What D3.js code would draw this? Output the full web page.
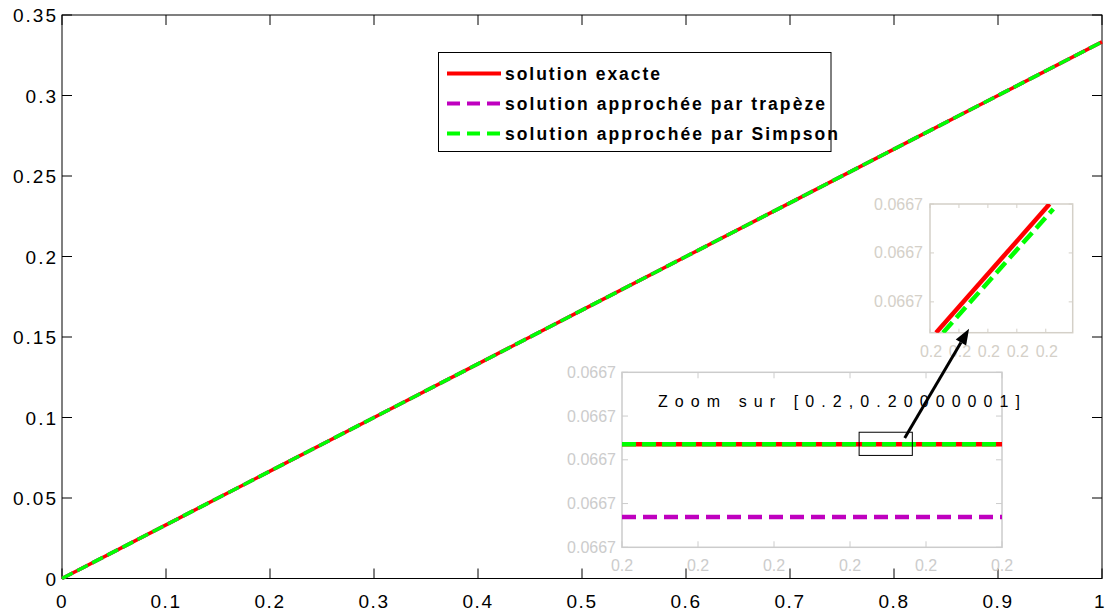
<!DOCTYPE html>
<html>
<head>
<meta charset="utf-8">
<script src="https://cdn.jsdelivr.net/npm/d3@7"></script>
<style>
  body { margin: 0; background: #fff; }
  svg { display: block; }
  text { font-family: Arial, "Liberation Sans", Helvetica, sans-serif; }
</style>
</head>
<body>
<div id="chart"></div>
<script>
"use strict"

// main data : x in [0,1]
var xs = [0, 0.1, 0.2, 0.3, 0.4, 0.5, 0.6, 0.7, 0.8, 0.9, 1];
var exacte = [0, 0.0333, 0.0667, 0.1, 0.1333, 0.1667, 0.2, 0.2333, 0.2667, 0.3, 0.3333];
var trapeze = [0, 0.0333, 0.0667, 0.1, 0.1333, 0.1667, 0.2, 0.2333, 0.2667, 0.3, 0.3333];
var simpson = [0, 0.0333, 0.0667, 0.1, 0.1333, 0.1667, 0.2, 0.2333, 0.2667, 0.3, 0.3333];
var xTicks = [0, 0.1, 0.2, 0.3, 0.4, 0.5, 0.6, 0.7, 0.8, 0.9, 1];
var xTickLabels = ["0", "0.1", "0.2", "0.3", "0.4", "0.5", "0.6", "0.7", "0.8", "0.9", "1"];
var yTicks = [0, 0.05, 0.1, 0.15, 0.2, 0.25, 0.3, 0.35];
var yTickLabels = ["0", "0.05", "0.1", "0.15", "0.2", "0.25", "0.3", "0.35"];

// zoom inset 1 (tick index units)
var z1X = [0, 5];
var z1Exacte = [2.354, 2.354];
var z1Trapeze = [0.693, 0.693];
var z1Simpson = [2.354, 2.354];
var z1XTicks = [0, 1, 2, 3, 4, 5];
var z1XLabels = ["0.2", "0.2", "0.2", "0.2", "0.2", "0.2"];
var z1YTicks = [0, 1, 2, 3, 4];
var z1YLabels = ["0.0667", "0.0667", "0.0667", "0.0667", "0.0667"];
var z1Box = [3.12, 3.82, 2.10, 2.63]; // x0,x1,y0,y1

// zoom inset 2
var z2ExacteX = [0.21, 4.13];
var z2ExacteY = [-0.63, 2];
var z2SimpsonX = [0.45, 4.26];
var z2SimpsonY = [-0.63, 1.9];
var z2XTicks = [0, 1, 2, 3, 4];
var z2XLabels = ["0.2", "0.2", "0.2", "0.2", "0.2"];
var z2YTicks = [0, 1, 2];
var z2YLabels = ["0.0667", "0.0667", "0.0667"];

var legendLabels = ["solution exacte", "solution approchée par trapèze", "solution approchée par Simpson"];
var colors = ["#ff0000", "#bf00bf", "#00ff00"];

var width = 1107, height = 614;
var svg = d3.select("#chart").append("svg")
    .attr("width", width).attr("height", height);

// ---------- main axes ----------
var mLeft = 62, mRight = 1102, mTop = 15, mBottom = 578.5;
var x = d3.scaleLinear().domain([0, 1]).range([mLeft, mRight]);
var y = d3.scaleLinear().domain([0, 0.35]).range([mBottom, mTop]);

var main = svg.append("g");
main.append("rect").attr("x", mLeft).attr("y", mTop)
    .attr("width", mRight - mLeft).attr("height", mBottom - mTop)
    .attr("fill", "#fff").attr("stroke", "#000").attr("stroke-width", 1);

// inner ticks on all four sides
var tk = 10;
main.selectAll(".xt").data(xTicks).enter().append("path")
    .attr("d", function (d) { return "M" + x(d) + "," + mBottom + "v" + (-tk) + "M" + x(d) + "," + mTop + "v" + tk; })
    .attr("stroke", "#000").attr("stroke-width", 1);
main.selectAll(".yt").data(yTicks).enter().append("path")
    .attr("d", function (d) { return "M" + mLeft + "," + y(d) + "h" + tk + "M" + mRight + "," + y(d) + "h" + (-tk); })
    .attr("stroke", "#000").attr("stroke-width", 1);

main.selectAll(".xl").data(xTicks).enter().append("text")
    .attr("x", function (d) { return Math.min(x(d), 1100); }).attr("y", 608)
    .attr("text-anchor", "middle").attr("font-size", 19).attr("letter-spacing", 1.5)
    .text(function (d, i) { return xTickLabels[i]; });
main.selectAll(".yl").data(yTicks).enter().append("text")
    .attr("x", 58).attr("y", function (d) { return y(d) + 7; })
    .attr("text-anchor", "end").attr("font-size", 19).attr("letter-spacing", 2)
    .text(function (d, i) { return yTickLabels[i]; });

var line = d3.line().x(function (d) { return x(d[0]); }).y(function (d) { return y(d[1]); });
function pairs(a, b) { return a.map(function (v, i) { return [v, b[i]]; }); }

main.append("path").attr("d", line(pairs(xs, exacte)))
    .attr("fill", "none").attr("stroke", colors[0]).attr("stroke-width", 3.5);
main.append("path").attr("d", line(pairs(xs, trapeze)))
    .attr("fill", "none").attr("stroke", colors[1]).attr("stroke-width", 3.5).attr("stroke-dasharray", "12,5");
main.append("path").attr("d", line(pairs(xs, simpson)))
    .attr("fill", "none").attr("stroke", colors[2]).attr("stroke-width", 3.5).attr("stroke-dasharray", "12,5");

// ---------- legend ----------
var lg = svg.append("g");
lg.append("rect").attr("x", 438.5).attr("y", 52.5).attr("width", 392.5).attr("height", 99)
    .attr("fill", "#fff").attr("stroke", "#000").attr("stroke-width", 1);
var legendLen = [155, 320, 333];
legendLabels.forEach(function (lab, i) {
    var ly = 73.5 + i * 30;
    lg.append("line").attr("x1", 447).attr("x2", 501).attr("y1", ly).attr("y2", ly)
        .attr("stroke", colors[i]).attr("stroke-width", 4)
        .attr("stroke-dasharray", i === 0 ? null : "13,7");
    lg.append("text").attr("x", 505).attr("y", ly + 6)
        .attr("font-size", 17.5).attr("font-weight", "bold")
        .attr("textLength", legendLen[i]).attr("lengthAdjust", "spacing")
        .text(lab);
});

// ---------- inset 1 ----------
var z1 = svg.append("g");
var x1 = d3.scaleLinear().domain([0, 5]).range([622, 1002]);
var y1 = d3.scaleLinear().domain([0, 4]).range([547.3, 372.3]);
var g1 = "#cccccc";
z1.append("rect").attr("x", 622).attr("y", 372.3).attr("width", 380).attr("height", 175)
    .attr("fill", "#fff").attr("stroke", g1).attr("stroke-width", 1.5);
z1.selectAll(".t").data(z1XTicks).enter().append("path")
    .attr("d", function (d) { return "M" + x1(d) + ",547.3v-6M" + x1(d) + ",372.3v6"; })
    .attr("stroke", g1);
z1.selectAll(".u").data(z1YTicks).enter().append("path")
    .attr("d", function (d) { return "M622," + y1(d) + "h6M1002," + y1(d) + "h-6"; })
    .attr("stroke", g1);
z1.selectAll(".xl").data(z1XTicks).enter().append("text")
    .attr("x", function (d) { return x1(d); }).attr("y", 571)
    .attr("text-anchor", "middle").attr("font-size", 16).attr("fill", g1)
    .text(function (d, i) { return z1XLabels[i]; });
z1.selectAll(".yl").data(z1YTicks).enter().append("text")
    .attr("x", 616).attr("y", function (d) { return y1(d) + 5.5; })
    .attr("text-anchor", "end").attr("font-size", 16).attr("fill", g1)
    .text(function (d, i) { return z1YLabels[i]; });

var line1 = d3.line().x(function (d) { return x1(d[0]); }).y(function (d) { return y1(d[1]); });
z1.append("path").attr("d", line1(pairs(z1X, z1Exacte)))
    .attr("fill", "none").attr("stroke", colors[0]).attr("stroke-width", 4.5);
z1.append("path").attr("d", line1(pairs(z1X, z1Trapeze)))
    .attr("fill", "none").attr("stroke", colors[1]).attr("stroke-width", 4.5).attr("stroke-dasharray", "14,7");
z1.append("path").attr("d", line1(pairs(z1X, z1Simpson)))
    .attr("fill", "none").attr("stroke", colors[2]).attr("stroke-width", 4.5).attr("stroke-dasharray", "14,6");

z1.append("text").attr("x", 658).attr("y", 407)
    .attr("font-family", "'Liberation Mono', 'Courier New', monospace").attr("font-size", 16)
    .attr("textLength", 362).attr("lengthAdjust", "spacing").attr("fill", "#000")
    .text("Zoom sur [0.2,0.20000001]");

z1.append("rect")
    .attr("x", x1(z1Box[0])).attr("y", y1(z1Box[3]))
    .attr("width", x1(z1Box[1]) - x1(z1Box[0])).attr("height", y1(z1Box[2]) - y1(z1Box[3]))
    .attr("fill", "none").attr("stroke", "#000").attr("stroke-width", 1);

// ---------- inset 2 ----------
var z2 = svg.append("g");
var x2 = d3.scaleLinear().domain([0, 4.93]).range([930, 1072.7]);
var y2 = d3.scaleLinear().domain([-0.63, 2]).range([332.7, 204]);
var g2 = "#d4d0c8";
z2.append("clipPath").attr("id", "clip2").append("rect")
    .attr("x", 930).attr("y", 204).attr("width", 142.7).attr("height", 128.7);
z2.append("rect").attr("x", 930).attr("y", 204).attr("width", 142.7).attr("height", 128.7)
    .attr("fill", "#fff").attr("stroke", g2).attr("stroke-width", 1.5);
z2.selectAll(".t").data(z2XTicks).enter().append("path")
    .attr("d", function (d) { return "M" + x2(d) + ",332.7v-4M" + x2(d) + ",204v4"; })
    .attr("stroke", g2);
z2.selectAll(".u").data(z2YTicks).enter().append("path")
    .attr("d", function (d) { return "M930," + y2(d) + "h4M1072.7," + y2(d) + "h-4"; })
    .attr("stroke", g2);
z2.selectAll(".xl").data(z2XTicks).enter().append("text")
    .attr("x", function (d) { return x2(d) + 1; }).attr("y", 357)
    .attr("text-anchor", "middle").attr("font-size", 16).attr("fill", g2)
    .text(function (d, i) { return z2XLabels[i]; });
z2.selectAll(".yl").data(z2YTicks).enter().append("text")
    .attr("x", 923).attr("y", function (d) { return y2(d) + 5.5; })
    .attr("text-anchor", "end").attr("font-size", 16).attr("fill", g2)
    .text(function (d, i) { return z2YLabels[i]; });

var line2 = d3.line().x(function (d) { return x2(d[0]); }).y(function (d) { return y2(d[1]); });
var lines2 = z2.append("g").attr("clip-path", "url(#clip2)");
lines2.append("path").attr("d", line2(pairs(z2ExacteX, z2ExacteY)))
    .attr("fill", "none").attr("stroke", colors[0]).attr("stroke-width", 4.5);
lines2.append("path").attr("d", line2(pairs(z2SimpsonX, z2SimpsonY)))
    .attr("fill", "none").attr("stroke", colors[2]).attr("stroke-width", 4.5).attr("stroke-dasharray", "14,6");

// ---------- arrow ----------
var arrowFrom = [3.72, 2.50];   // inset 1 units
var arrowTo = [1.35, -0.55];    // inset 2 units
var ax0 = x1(arrowFrom[0]), ay0 = y1(arrowFrom[1]);
var ax1 = x2(arrowTo[0]), ay1 = y2(arrowTo[1]);
var ang = Math.atan2(ay1 - ay0, ax1 - ax0), hl = 16, hw = 6;
var bx = ax1 - hl * Math.cos(ang), by = ay1 - hl * Math.sin(ang);
svg.append("line").attr("x1", ax0).attr("y1", ay0).attr("x2", bx).attr("y2", by)
    .attr("stroke", "#000").attr("stroke-width", 3);
svg.append("path")
    .attr("d", "M" + ax1 + "," + ay1 +
        "L" + (bx + hw * Math.sin(ang)) + "," + (by - hw * Math.cos(ang)) +
        "L" + (bx - hw * Math.sin(ang)) + "," + (by + hw * Math.cos(ang)) + "Z")
    .attr("fill", "#000");
</script>
</body>
</html>
